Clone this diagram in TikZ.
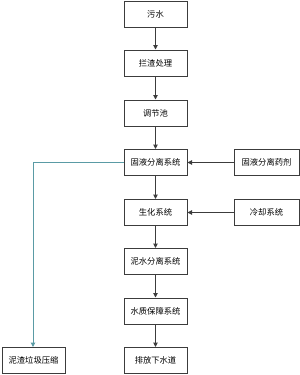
\documentclass[tikz,border=0pt]{standalone}
\usepackage{fontspec}
\newfontfamily\cjk{Noto Sans CJK SC}
\usetikzlibrary{arrows.meta}
\definecolor{linegray}{RGB}{60,60,60}
\definecolor{tealline}{RGB}{90,155,165}
\tikzset{
  box/.style={draw=linegray, line width=1pt, minimum width=63pt, minimum height=26pt, inner sep=0pt, font=\cjk\fontsize{8.3}{10}\selectfont, text=black, fill=white},
  conn/.style={draw=linegray, line width=1pt, -{Triangle[length=4.5pt,width=4.5pt]}},
  tconn/.style={draw=tealline, line width=1pt, -{Triangle[length=4.5pt,width=4.5pt]}}
}
\begin{document}
\begin{tikzpicture}[x=1pt,y=-1pt]
\useasboundingbox (0,0) rectangle (300,375);
\node[box] (a) at (155.5,14) {污水};
\node[box] (b) at (155.5,63) {拦渣处理};
\node[box] (c) at (155.5,113) {调节池};
\node[box] (d) at (155.5,162.5) {固液分离系统};
\node[box] (e) at (155.5,212.5) {生化系统};
\node[box] (f) at (155.5,261.5) {泥水分离系统};
\node[box] (g) at (155.5,311) {水质保障系统};
\node[box] (h) at (155.5,360.5) {排放下水道};
\node[box, minimum width=65pt] (r1) at (266.5,162.5) {固液分离药剂};
\node[box, minimum width=65pt] (r2) at (266.5,212.5) {冷却系统};
\node[box] (l) at (33.5,360.5) {泥渣垃圾压缩};
\coordinate (corner) at (33,162.5);
\draw[conn] (a) -- (b);
\draw[conn] (b) -- (c);
\draw[conn] (c) -- (d);
\draw[conn] (d) -- (e);
\draw[conn] (e) -- (f);
\draw[conn] (f) -- (g);
\draw[conn] (g) -- (h);
\draw[conn] (r1) -- (d);
\draw[conn] (r2) -- (e);
\draw[tconn] (d.west) -- (corner) -- (l.north -| corner);
\end{tikzpicture}
\end{document}
